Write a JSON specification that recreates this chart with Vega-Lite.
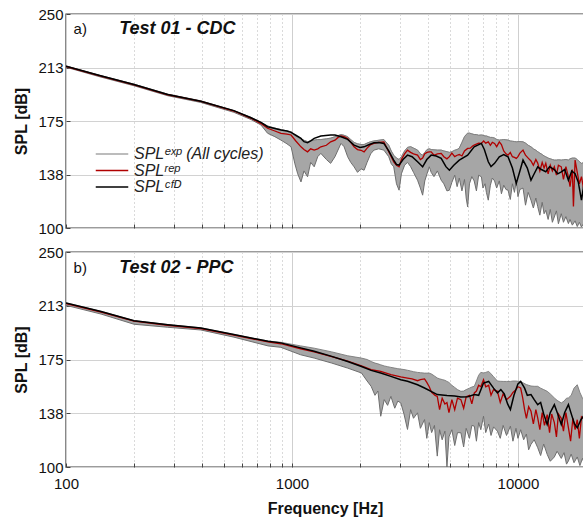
{
  "$schema": "https://vega.github.io/schema/vega-lite/v6.json",
  "background": "white",
  "padding": {"left": 13, "top": 6, "right": 0, "bottom": 1},
  "spacing": 24,
  "bounds": "flush",
  "config": {
    "view": {"stroke": "#3a3a3a", "strokeWidth": 1.4},
    "font": "Liberation Sans",
    "axis": {
      "labelFont": "Liberation Sans", "labelFontSize": 15, "labelColor": "#111",
      "titleFont": "Liberation Sans", "titleFontSize": 16, "titleFontWeight": "bold", "titleColor": "#111",
      "domain": false, "tickColor": "#444", "tickSize": -4, "labelPadding": 5,
      "labelOverlap": false, "labelFlush": false, "gridColor": "#d2d2d2", "gridWidth": 1
    },
    "axisY": {"labelPadding": 7}
  },
  "resolve": {"scale": {"color": "independent"}, "legend": {"color": "independent"}},
  "datasets": {
    "bandA": [
      {"f":100,"lo":212.7,"hi":213.6},{"f":141,"lo":206.0,"hi":207.0},{"f":200,"lo":199.7,"hi":200.8},{"f":282,"lo":192.7,"hi":193.8},
      {"f":395,"lo":188.0,"hi":189.1},{"f":553,"lo":181.1,"hi":182.3},{"f":659,"lo":176.0,"hi":177.5},{"f":729,"lo":172.2,"hi":174.0},
      {"f":780,"lo":166.4,"hi":171.5},{"f":840,"lo":164,"hi":170},{"f":894,"lo":161.6,"hi":169},{"f":950,"lo":159,"hi":168},
      {"f":991,"lo":156.9,"hi":167.5},{"f":1030,"lo":145,"hi":165},{"f":1060,"lo":138,"hi":163.5},{"f":1096,"lo":132.3,"hi":162.5},
      {"f":1130,"lo":140,"hi":161.5},{"f":1172,"lo":135.9,"hi":160.5},{"f":1210,"lo":146,"hi":161},{"f":1254,"lo":142.9,"hi":161.6},
      {"f":1300,"lo":150,"hi":162},{"f":1342,"lo":152.3,"hi":162},{"f":1420,"lo":148,"hi":162.5},{"f":1483,"lo":145.3,"hi":163},
      {"f":1550,"lo":150,"hi":164},{"f":1648,"lo":159.3,"hi":165.5},{"f":1700,"lo":157,"hi":165},{"f":1764,"lo":149.9,"hi":164},
      {"f":1820,"lo":146,"hi":162},{"f":1882,"lo":142.9,"hi":160},{"f":1950,"lo":139,"hi":159},{"f":2020,"lo":141.5,"hi":158.5},
      {"f":2085,"lo":140.5,"hi":158.5},{"f":2150,"lo":146,"hi":159.5},{"f":2230,"lo":152,"hi":160.5},{"f":2305,"lo":154.6,"hi":161},
      {"f":2420,"lo":155.5,"hi":161.5},{"f":2550,"lo":154.6,"hi":162},{"f":2680,"lo":150,"hi":158},{"f":2750,"lo":145,"hi":154},
      {"f":2820,"lo":142.9,"hi":151},{"f":2900,"lo":131,"hi":149},{"f":2978,"lo":126.5,"hi":148},{"f":3050,"lo":138,"hi":150},
      {"f":3150,"lo":144,"hi":154},{"f":3245,"lo":146,"hi":156.5},{"f":3350,"lo":143,"hi":157},{"f":3450,"lo":139,"hi":156},
      {"f":3595,"lo":133.5,"hi":154.6},{"f":3700,"lo":128,"hi":152},{"f":3786,"lo":123,"hi":151},{"f":3870,"lo":133,"hi":153},
      {"f":3960,"lo":138,"hi":155},{"f":4050,"lo":142.9,"hi":155.5},{"f":4131,"lo":139,"hi":155},{"f":4250,"lo":136,"hi":154.8},
      {"f":4400,"lo":140,"hi":154.6},{"f":4574,"lo":133.5,"hi":154.6},{"f":4700,"lo":131,"hi":154},{"f":4850,"lo":126,"hi":153.5},
      {"f":4972,"lo":126.5,"hi":153},{"f":5100,"lo":132,"hi":153.5},{"f":5250,"lo":137,"hi":154.5},{"f":5380,"lo":129,"hi":155},
      {"f":5500,"lo":135,"hi":156},{"f":5650,"lo":126,"hi":160},{"f":5800,"lo":134,"hi":164},{"f":5900,"lo":121,"hi":165.5},
      {"f":5989,"lo":114.8,"hi":166.4},{"f":6100,"lo":131,"hi":166.5},{"f":6250,"lo":136,"hi":166},{"f":6400,"lo":133,"hi":165.5},
      {"f":6550,"lo":126,"hi":165.5},{"f":6700,"lo":137,"hi":165},{"f":6890,"lo":135.9,"hi":165.2},{"f":7000,"lo":128,"hi":165},
      {"f":7150,"lo":131,"hi":164.5},{"f":7250,"lo":125,"hi":164.5},{"f":7390,"lo":119.5,"hi":164},{"f":7550,"lo":130,"hi":163.5},
      {"f":7700,"lo":135,"hi":163.5},{"f":7880,"lo":133,"hi":163},{"f":8050,"lo":128,"hi":162},{"f":8270,"lo":133,"hi":161.6},
      {"f":8450,"lo":124,"hi":161.8},{"f":8650,"lo":130,"hi":162},{"f":8850,"lo":127,"hi":161.8},{"f":9040,"lo":126.5,"hi":161.6},
      {"f":9250,"lo":120,"hi":161},{"f":9450,"lo":131,"hi":160.8},{"f":9650,"lo":125,"hi":160.6},{"f":9830,"lo":133,"hi":160.4},
      {"f":10000,"lo":122,"hi":160.5},{"f":10200,"lo":127,"hi":160.6},{"f":10530,"lo":128,"hi":160.4},{"f":10800,"lo":116,"hi":159.5},
      {"f":11100,"lo":125,"hi":158},{"f":11420,"lo":119.5,"hi":156.9},{"f":11700,"lo":114,"hi":155.5},{"f":12000,"lo":121,"hi":154.5},
      {"f":12230,"lo":115,"hi":153.5},{"f":12500,"lo":109,"hi":152.5},{"f":12800,"lo":118,"hi":151.5},{"f":13050,"lo":110,"hi":150.5},
      {"f":13280,"lo":112.4,"hi":149.9},{"f":13600,"lo":106,"hi":149},{"f":13900,"lo":113,"hi":148.5},{"f":14200,"lo":104,"hi":148},
      {"f":14480,"lo":107.7,"hi":147.6},{"f":14800,"lo":112,"hi":147.6},{"f":15100,"lo":103,"hi":147.8},{"f":15550,"lo":110,"hi":147.6},
      {"f":15900,"lo":104,"hi":147.8},{"f":16300,"lo":108,"hi":148},{"f":16720,"lo":103.1,"hi":147.6},{"f":17000,"lo":106,"hi":148.5},
      {"f":17400,"lo":102,"hi":149},{"f":17900,"lo":105,"hi":149},{"f":18300,"lo":101,"hi":148},{"f":18700,"lo":104,"hi":146.5},
      {"f":19100,"lo":100.7,"hi":145.3},{"f":19500,"lo":103,"hi":145.8},{"f":20000,"lo":102,"hi":146}
    ],
    "repA": [
      {"f":100,"v":213.2},{"f":141,"v":206.6},{"f":200,"v":200.3},{"f":282,"v":193.4},{"f":395,"v":188.7},{"f":553,"v":182.0},
      {"f":659,"v":176.9},{"f":729,"v":173.2},{"f":780,"v":169.9},{"f":840,"v":168},{"f":894,"v":166.4},{"f":950,"v":165.8},
      {"f":991,"v":165.2},{"f":1040,"v":161},{"f":1096,"v":156.9},{"f":1130,"v":155},{"f":1172,"v":153.4},{"f":1210,"v":155.5},
      {"f":1254,"v":154.6},{"f":1300,"v":155.5},{"f":1342,"v":156.9},{"f":1420,"v":158},{"f":1483,"v":160.4},{"f":1550,"v":161.6},
      {"f":1600,"v":163.5},{"f":1648,"v":164.5},{"f":1700,"v":164},{"f":1764,"v":162.8},{"f":1820,"v":160},{"f":1882,"v":156.9},
      {"f":1950,"v":155},{"f":2020,"v":154.5},{"f":2085,"v":153.4},{"f":2150,"v":156},{"f":2230,"v":158.5},{"f":2305,"v":159.3},
      {"f":2420,"v":160},{"f":2550,"v":160.4},{"f":2650,"v":155},{"f":2750,"v":150},{"f":2820,"v":146.4},{"f":2900,"v":144},
      {"f":2978,"v":142.9},{"f":3050,"v":148},{"f":3150,"v":152},{"f":3245,"v":154.6},{"f":3350,"v":153},{"f":3450,"v":152},
      {"f":3595,"v":151.1},{"f":3700,"v":148},{"f":3786,"v":149},{"f":3870,"v":152},{"f":3960,"v":153},{"f":4050,"v":153.4},
      {"f":4131,"v":153.4},{"f":4250,"v":151},{"f":4400,"v":152},{"f":4574,"v":152.3},{"f":4700,"v":150},{"f":4850,"v":148.5},
      {"f":4972,"v":150},{"f":5100,"v":152.5},{"f":5250,"v":150},{"f":5380,"v":151},{"f":5500,"v":151.5},{"f":5650,"v":150.5},
      {"f":5800,"v":154},{"f":5989,"v":155.8},{"f":6150,"v":156},{"f":6300,"v":157.5},{"f":6400,"v":158.1},{"f":6550,"v":158.8},
      {"f":6700,"v":159.5},{"f":6890,"v":159.3},{"f":7050,"v":161},{"f":7200,"v":159.5},{"f":7390,"v":160.4},{"f":7550,"v":158},
      {"f":7700,"v":160},{"f":7880,"v":159.3},{"f":8050,"v":157},{"f":8270,"v":160.4},{"f":8450,"v":158.5},{"f":8650,"v":154},
      {"f":8850,"v":152},{"f":9040,"v":151.1},{"f":9250,"v":153},{"f":9450,"v":150},{"f":9650,"v":149.5},{"f":9830,"v":148.8},
      {"f":10000,"v":150},{"f":10200,"v":152.5},{"f":10530,"v":154.6},{"f":10800,"v":151},{"f":11100,"v":149},{"f":11420,"v":147},
      {"f":11700,"v":144},{"f":12000,"v":148},{"f":12230,"v":145.5},{"f":12500,"v":140},{"f":12800,"v":146},{"f":13050,"v":142},
      {"f":13280,"v":145.3},{"f":13600,"v":138},{"f":13900,"v":144},{"f":14200,"v":140},{"f":14480,"v":142.9},{"f":14800,"v":137},
      {"f":15100,"v":144},{"f":15550,"v":142.9},{"f":15900,"v":134},{"f":16300,"v":143},{"f":16720,"v":135.9},{"f":17000,"v":129},
      {"f":17400,"v":141},{"f":17600,"v":115},{"f":17900,"v":147.6},{"f":18300,"v":139},{"f":18700,"v":131},{"f":19100,"v":136},
      {"f":19500,"v":128},{"f":20000,"v":138}
    ],
    "cfdA": [
      {"f":100,"v":213.4},{"f":141,"v":206.9},{"f":200,"v":200.6},{"f":282,"v":193.6},{"f":395,"v":188.9},{"f":553,"v":182.3},
      {"f":659,"v":177.3},{"f":729,"v":174.0},{"f":780,"v":171.0},{"f":840,"v":169.8},{"f":894,"v":168.7},{"f":950,"v":168},
      {"f":991,"v":167},{"f":1040,"v":165},{"f":1096,"v":162.8},{"f":1130,"v":160.5},{"f":1172,"v":159.8},{"f":1210,"v":161},
      {"f":1254,"v":162.8},{"f":1342,"v":164.5},{"f":1483,"v":165.2},{"f":1550,"v":165.2},{"f":1648,"v":164},{"f":1764,"v":162.1},
      {"f":1882,"v":158.1},{"f":2000,"v":156.5},{"f":2085,"v":156.9},{"f":2200,"v":158.5},{"f":2305,"v":159.8},{"f":2420,"v":160},
      {"f":2550,"v":159.3},{"f":2680,"v":154},{"f":2820,"v":147.6},{"f":2900,"v":144.5},{"f":2978,"v":144.1},{"f":3100,"v":148},
      {"f":3245,"v":151.1},{"f":3400,"v":150},{"f":3595,"v":146.4},{"f":3786,"v":142.9},{"f":3950,"v":148},{"f":4131,"v":151.1},
      {"f":4350,"v":150.5},{"f":4574,"v":148.8},{"f":4800,"v":143},{"f":4972,"v":140.5},{"f":5200,"v":144},{"f":5500,"v":147.6},
      {"f":5989,"v":151.1},{"f":6400,"v":156.9},{"f":6890,"v":159.3},{"f":7100,"v":155},{"f":7390,"v":146.4},{"f":7600,"v":143},
      {"f":7880,"v":145.3},{"f":8270,"v":149.9},{"f":8650,"v":151.5},{"f":9040,"v":149.9},{"f":9450,"v":142},{"f":9830,"v":131.2},
      {"f":10200,"v":140},{"f":10530,"v":147.6},{"f":11000,"v":142},{"f":11420,"v":133.5},{"f":11800,"v":138},{"f":12230,"v":142.9},
      {"f":12700,"v":141},{"f":13280,"v":139.4},{"f":13800,"v":143},{"f":14480,"v":141},{"f":15000,"v":138},{"f":15550,"v":139.4},
      {"f":16100,"v":141},{"f":16720,"v":133.5},{"f":17300,"v":140},{"f":17900,"v":138},{"f":18500,"v":132},{"f":19100,"v":119.5},
      {"f":19600,"v":131},{"f":20000,"v":136}
    ],
    "bandB": [
      {"f":100,"lo":212.8,"hi":214.5},{"f":143,"lo":206.7,"hi":208.6},{"f":200,"lo":199.6,"hi":202.2},{"f":282,"lo":197.5,"hi":199.4},
      {"f":395,"lo":195.6,"hi":197.1},{"f":553,"lo":190.6,"hi":192.5},{"f":783,"lo":184.5,"hi":187.9},{"f":893,"lo":183.5,"hi":187},
      {"f":1092,"lo":178.3,"hi":184.5},{"f":1254,"lo":176,"hi":182.9},{"f":1500,"lo":172.5,"hi":180.3},{"f":1764,"lo":169,"hi":177.6},
      {"f":2030,"lo":165.6,"hi":176},{"f":2150,"lo":160,"hi":175},{"f":2240,"lo":156.3,"hi":173.6},{"f":2330,"lo":150,"hi":172.5},
      {"f":2400,"lo":153,"hi":172},{"f":2470,"lo":135.4,"hi":171.3},{"f":2560,"lo":147,"hi":170.5},{"f":2650,"lo":143,"hi":170},
      {"f":2740,"lo":149.3,"hi":169.5},{"f":2850,"lo":141,"hi":169},{"f":2940,"lo":146,"hi":168.6},{"f":3030,"lo":144.7,"hi":168.3},
      {"f":3130,"lo":137,"hi":168},{"f":3245,"lo":126.2,"hi":167.5},{"f":3350,"lo":140,"hi":167},{"f":3450,"lo":134,"hi":166.5},
      {"f":3595,"lo":137.8,"hi":166},{"f":3700,"lo":127,"hi":165.8},{"f":3860,"lo":133.1,"hi":165.5},{"f":3950,"lo":120,"hi":165.5},
      {"f":4050,"lo":131,"hi":165.5},{"f":4150,"lo":124,"hi":164.8},{"f":4270,"lo":129,"hi":163.5},{"f":4395,"lo":107.6,"hi":162.1},
      {"f":4500,"lo":126,"hi":161.5},{"f":4620,"lo":119,"hi":161},{"f":4750,"lo":125,"hi":160.5},{"f":4850,"lo":100,"hi":159.7},
      {"f":4950,"lo":121,"hi":159},{"f":5100,"lo":126,"hi":157},{"f":5250,"lo":115,"hi":155.5},{"f":5400,"lo":124,"hi":154},
      {"f":5590,"lo":123.9,"hi":152.8},{"f":5750,"lo":114,"hi":153},{"f":5900,"lo":127,"hi":154},{"f":6100,"lo":120,"hi":155},
      {"f":6250,"lo":129,"hi":155.8},{"f":6410,"lo":128.5,"hi":156.3},{"f":6550,"lo":118,"hi":160},{"f":6700,"lo":131,"hi":164},
      {"f":6850,"lo":126,"hi":166},{"f":7040,"lo":135.4,"hi":165.6},{"f":7200,"lo":124,"hi":166},{"f":7420,"lo":130,"hi":166.7},
      {"f":7600,"lo":122,"hi":165},{"f":7800,"lo":128,"hi":163},{"f":8110,"lo":125,"hi":160},{"f":8350,"lo":120,"hi":159.8},
      {"f":8600,"lo":129,"hi":159.7},{"f":8900,"lo":122,"hi":159.7},{"f":9260,"lo":128.5,"hi":159.7},{"f":9500,"lo":118,"hi":160},
      {"f":9800,"lo":127,"hi":160},{"f":10000,"lo":120,"hi":159.8},{"f":10280,"lo":126,"hi":159.7},{"f":10600,"lo":119,"hi":158.5},
      {"f":10900,"lo":123,"hi":157.5},{"f":11150,"lo":112,"hi":157},{"f":11420,"lo":115.8,"hi":156.5},{"f":11800,"lo":119,"hi":156.3},
      {"f":12230,"lo":113.5,"hi":156.3},{"f":12600,"lo":108,"hi":155},{"f":13000,"lo":116,"hi":154},{"f":13470,"lo":108.8,"hi":152.8},
      {"f":13900,"lo":104,"hi":151},{"f":14490,"lo":107,"hi":148.2},{"f":14900,"lo":111,"hi":146.5},{"f":15550,"lo":106,"hi":144.7},
      {"f":16000,"lo":110,"hi":146},{"f":16400,"lo":102,"hi":148},{"f":16720,"lo":104.2,"hi":148.2},{"f":17200,"lo":109,"hi":150},
      {"f":17700,"lo":103,"hi":155},{"f":18300,"lo":107,"hi":157.4},{"f":18800,"lo":101,"hi":152},{"f":19300,"lo":106,"hi":148},
      {"f":19700,"lo":102,"hi":146},{"f":20000,"lo":104,"hi":146}
    ],
    "repB": [
      {"f":100,"v":214.0},{"f":143,"v":208.0},{"f":200,"v":201.7},{"f":282,"v":198.9},{"f":395,"v":196.6},{"f":553,"v":192.0},
      {"f":783,"v":187.3},{"f":893,"v":186.0},{"f":1092,"v":182.5},{"f":1254,"v":180.3},{"f":1500,"v":177},{"f":1764,"v":173.8},
      {"f":2030,"v":170.6},{"f":2240,"v":168},{"f":2470,"v":166.7},{"f":2740,"v":164.4},{"f":3030,"v":162.8},{"f":3245,"v":162},
      {"f":3400,"v":161.5},{"f":3595,"v":160.2},{"f":3700,"v":161},{"f":3860,"v":161.5},{"f":3950,"v":159},{"f":4050,"v":156},
      {"f":4150,"v":152},{"f":4300,"v":150},{"f":4395,"v":149.3},{"f":4500,"v":140},{"f":4620,"v":148},{"f":4750,"v":144},
      {"f":4850,"v":145},{"f":4950,"v":138},{"f":5100,"v":147},{"f":5250,"v":140},{"f":5400,"v":148},{"f":5590,"v":147},
      {"f":5750,"v":141},{"f":5900,"v":149},{"f":6100,"v":150},{"f":6250,"v":144},{"f":6410,"v":151.7},{"f":6550,"v":153},
      {"f":6700,"v":157},{"f":6850,"v":156},{"f":7040,"v":160.9},{"f":7200,"v":156},{"f":7420,"v":157},{"f":7600,"v":150},
      {"f":7800,"v":154},{"f":8110,"v":152.8},{"f":8350,"v":145},{"f":8600,"v":151},{"f":8900,"v":147},{"f":9260,"v":149.3},
      {"f":9500,"v":152},{"f":9800,"v":154},{"f":10000,"v":156},{"f":10280,"v":155.1},{"f":10500,"v":148},{"f":10700,"v":140},
      {"f":10900,"v":134},{"f":11150,"v":142},{"f":11420,"v":138.9},{"f":11700,"v":130},{"f":12000,"v":140},{"f":12230,"v":134.3},
      {"f":12500,"v":126},{"f":12800,"v":138},{"f":13100,"v":129},{"f":13470,"v":136.6},{"f":13800,"v":124},{"f":14100,"v":137},
      {"f":14490,"v":131},{"f":14800,"v":121},{"f":15100,"v":137},{"f":15550,"v":134},{"f":15900,"v":125},{"f":16300,"v":138},
      {"f":16720,"v":127.4},{"f":17100,"v":118},{"f":17500,"v":134},{"f":17900,"v":126},{"f":18300,"v":133},{"f":18700,"v":120},
      {"f":19100,"v":135},{"f":19700,"v":133},{"f":20000,"v":128}
    ],
    "cfdB": [
      {"f":100,"v":214.4},{"f":143,"v":208.5},{"f":200,"v":202.1},{"f":282,"v":199.3},{"f":395,"v":197.0},{"f":553,"v":192.4},
      {"f":783,"v":187.7},{"f":893,"v":186.6},{"f":1092,"v":183.1},{"f":1254,"v":180.8},{"f":1500,"v":177.2},{"f":1764,"v":173.6},
      {"f":2030,"v":170.1},{"f":2240,"v":167.4},{"f":2470,"v":165.6},{"f":2740,"v":163.2},{"f":3030,"v":160.9},{"f":3245,"v":159.8},
      {"f":3595,"v":157.4},{"f":3860,"v":155.1},{"f":4395,"v":150.5},{"f":4850,"v":149.8},{"f":5250,"v":149.5},{"f":5590,"v":148.9},
      {"f":6000,"v":149},{"f":6410,"v":150.5},{"f":6700,"v":150},{"f":7040,"v":158.6},{"f":7420,"v":159.7},{"f":7800,"v":155},
      {"f":8110,"v":151.7},{"f":8400,"v":154},{"f":8700,"v":151},{"f":9000,"v":144},{"f":9260,"v":140.1},{"f":9600,"v":150},
      {"f":10000,"v":158},{"f":10280,"v":159.7},{"f":10700,"v":155},{"f":11000,"v":150},{"f":11420,"v":150.5},{"f":11800,"v":147},
      {"f":12230,"v":143.5},{"f":12600,"v":145},{"f":13000,"v":137},{"f":13470,"v":129.7},{"f":13900,"v":138},{"f":14490,"v":143.5},
      {"f":15000,"v":137},{"f":15550,"v":129.7},{"f":16100,"v":138},{"f":16720,"v":143.5},{"f":17300,"v":136},{"f":17800,"v":130},
      {"f":18300,"v":127.4},{"f":19000,"v":133},{"f":19700,"v":136.6},{"f":20000,"v":135}
    ],
    "lblA": [{"tag": "a)", "name": "Test 01 - CDC"}],
    "lblB": [{"tag": "b)", "name": "Test 02 - PPC"}]
  },
  "vconcat": [
    {
      "width": 518, "height": 214,
      "layer": [
        {"data": {"name": "bandA"}, "mark": {"type": "area", "color": "#a6a6a6", "clip": true},
          "encoding": {
            "x": {"field": "f", "type": "quantitative", "title": null, "scale": {"type": "log", "domain": [100, 19600], "nice": false},
              "axis": {"values": [100,200,300,400,500,600,700,800,900,1000,2000,3000,4000,5000,6000,7000,8000,9000,10000,20000], "labels": false, "grid": true,
                "gridDash": {"condition": {"test": "datum.value==100||datum.value==1000||datum.value==10000", "value": []}, "value": [1, 3]},
                "gridColor": {"condition": {"test": "datum.value==100||datum.value==1000||datum.value==10000", "value": "#cfcfcf"}, "value": "#b5b5b5"}}},
            "y": {"field": "lo", "type": "quantitative", "title": "SPL [dB]", "scale": {"domain": [100, 250], "nice": false, "zero": false},
              "axis": {"values": [100,118.75,137.5,156.25,175,193.75,212.5,231.25,250], "labelExpr": "(datum.value-100)%37.5==0 ? format(datum.value,'.0f') : ''",
                "grid": true, "gridOpacity": {"condition": {"test": "(datum.value-100)%37.5==0", "value": 1}, "value": 0}, "titlePadding": 8}},
            "y2": {"field": "hi"}}},
        {"data": {"name": "bandA"}, "mark": {"type": "line", "strokeWidth": 1, "clip": true},
          "encoding": {
            "x": {"field": "f", "type": "quantitative", "title": null, "scale": {"type": "log", "domain": [100, 19600], "nice": false},
              "axis": {"values": [100,200,300,400,500,600,700,800,900,1000,2000,3000,4000,5000,6000,7000,8000,9000,10000,20000], "labels": false, "grid": true,
                "gridDash": {"condition": {"test": "datum.value==100||datum.value==1000||datum.value==10000", "value": []}, "value": [1, 3]},
                "gridColor": {"condition": {"test": "datum.value==100||datum.value==1000||datum.value==10000", "value": "#cfcfcf"}, "value": "#b5b5b5"}}},
            "y": {"field": "hi", "type": "quantitative", "title": "SPL [dB]", "scale": {"domain": [100, 250], "nice": false, "zero": false},
              "axis": {"values": [100,118.75,137.5,156.25,175,193.75,212.5,231.25,250], "labelExpr": "(datum.value-100)%37.5==0 ? format(datum.value,'.0f') : ''",
                "grid": true, "gridOpacity": {"condition": {"test": "(datum.value-100)%37.5==0", "value": 1}, "value": 0}, "titlePadding": 8}},
            "color": {"datum": "SPLᵉˣᵖ (All cycles)",
              "scale": {"domain": ["SPLᵉˣᵖ (All cycles)", "SPLʳᵉᵖ", "SPLᶜᶠᴰ"], "range": ["#a6a6a6", "#b00000", "#000000"]},
              "legend": {"orient": "none", "legendX": 38, "legendY": 132, "title": null, "padding": 0,
                "symbolType": "M-2.5,0H2.5", "symbolSize": 169, "symbolStrokeWidth": 1.6, "labelOffset": 14,
                "labelFont": "Liberation Sans", "labelFontSize": 16, "labelFontStyle": "italic", "labelColor": "#222", "rowPadding": 0.5}}}},
        {"data": {"name": "bandA"}, "mark": {"type": "line", "color": "#6e6e6e", "strokeWidth": 1, "clip": true},
          "encoding": {
            "x": {"field": "f", "type": "quantitative", "title": null, "scale": {"type": "log", "domain": [100, 19600], "nice": false},
              "axis": {"values": [100,200,300,400,500,600,700,800,900,1000,2000,3000,4000,5000,6000,7000,8000,9000,10000,20000], "labels": false, "grid": true,
                "gridDash": {"condition": {"test": "datum.value==100||datum.value==1000||datum.value==10000", "value": []}, "value": [1, 3]},
                "gridColor": {"condition": {"test": "datum.value==100||datum.value==1000||datum.value==10000", "value": "#cfcfcf"}, "value": "#b5b5b5"}}},
            "y": {"field": "lo", "type": "quantitative", "title": "SPL [dB]", "scale": {"domain": [100, 250], "nice": false, "zero": false},
              "axis": {"values": [100,118.75,137.5,156.25,175,193.75,212.5,231.25,250], "labelExpr": "(datum.value-100)%37.5==0 ? format(datum.value,'.0f') : ''",
                "grid": true, "gridOpacity": {"condition": {"test": "(datum.value-100)%37.5==0", "value": 1}, "value": 0}, "titlePadding": 8}}}},
        {"data": {"name": "bandA"}, "mark": {"type": "line", "color": "#7a7a7a", "strokeWidth": 0.9, "clip": true},
          "encoding": {
            "x": {"field": "f", "type": "quantitative", "title": null, "scale": {"type": "log", "domain": [100, 19600], "nice": false},
              "axis": {"values": [100,200,300,400,500,600,700,800,900,1000,2000,3000,4000,5000,6000,7000,8000,9000,10000,20000], "labels": false, "grid": true,
                "gridDash": {"condition": {"test": "datum.value==100||datum.value==1000||datum.value==10000", "value": []}, "value": [1, 3]},
                "gridColor": {"condition": {"test": "datum.value==100||datum.value==1000||datum.value==10000", "value": "#cfcfcf"}, "value": "#b5b5b5"}}},
            "y": {"field": "hi", "type": "quantitative", "title": "SPL [dB]", "scale": {"domain": [100, 250], "nice": false, "zero": false},
              "axis": {"values": [100,118.75,137.5,156.25,175,193.75,212.5,231.25,250], "labelExpr": "(datum.value-100)%37.5==0 ? format(datum.value,'.0f') : ''",
                "grid": true, "gridOpacity": {"condition": {"test": "(datum.value-100)%37.5==0", "value": 1}, "value": 0}, "titlePadding": 8}}}},
        {"data": {"name": "repA"}, "mark": {"type": "line", "strokeWidth": 1.3, "clip": true},
          "encoding": {
            "x": {"field": "f", "type": "quantitative", "title": null, "scale": {"type": "log", "domain": [100, 19600], "nice": false},
              "axis": {"values": [100,200,300,400,500,600,700,800,900,1000,2000,3000,4000,5000,6000,7000,8000,9000,10000,20000], "labels": false, "grid": true,
                "gridDash": {"condition": {"test": "datum.value==100||datum.value==1000||datum.value==10000", "value": []}, "value": [1, 3]},
                "gridColor": {"condition": {"test": "datum.value==100||datum.value==1000||datum.value==10000", "value": "#cfcfcf"}, "value": "#b5b5b5"}}},
            "y": {"field": "v", "type": "quantitative", "title": "SPL [dB]", "scale": {"domain": [100, 250], "nice": false, "zero": false},
              "axis": {"values": [100,118.75,137.5,156.25,175,193.75,212.5,231.25,250], "labelExpr": "(datum.value-100)%37.5==0 ? format(datum.value,'.0f') : ''",
                "grid": true, "gridOpacity": {"condition": {"test": "(datum.value-100)%37.5==0", "value": 1}, "value": 0}, "titlePadding": 8}},
            "color": {"datum": "SPLʳᵉᵖ"}}},
        {"data": {"name": "cfdA"}, "mark": {"type": "line", "strokeWidth": 1.5, "clip": true},
          "encoding": {
            "x": {"field": "f", "type": "quantitative", "title": null, "scale": {"type": "log", "domain": [100, 19600], "nice": false},
              "axis": {"values": [100,200,300,400,500,600,700,800,900,1000,2000,3000,4000,5000,6000,7000,8000,9000,10000,20000], "labels": false, "grid": true,
                "gridDash": {"condition": {"test": "datum.value==100||datum.value==1000||datum.value==10000", "value": []}, "value": [1, 3]},
                "gridColor": {"condition": {"test": "datum.value==100||datum.value==1000||datum.value==10000", "value": "#cfcfcf"}, "value": "#b5b5b5"}}},
            "y": {"field": "v", "type": "quantitative", "title": "SPL [dB]", "scale": {"domain": [100, 250], "nice": false, "zero": false},
              "axis": {"values": [100,118.75,137.5,156.25,175,193.75,212.5,231.25,250], "labelExpr": "(datum.value-100)%37.5==0 ? format(datum.value,'.0f') : ''",
                "grid": true, "gridOpacity": {"condition": {"test": "(datum.value-100)%37.5==0", "value": 1}, "value": 0}, "titlePadding": 8}},
            "color": {"datum": "SPLᶜᶠᴰ"}}},
        {"data": {"name": "lblA"}, "mark": {"type": "text", "align": "left", "baseline": "middle", "fontSize": 15, "color": "#111"},
          "encoding": {"x": {"datum": 108, "type": "quantitative"}, "y": {"datum": 239.5, "type": "quantitative"}, "text": {"field": "tag"}}},
        {"data": {"name": "lblA"}, "mark": {"type": "text", "align": "left", "baseline": "middle", "fontSize": 18, "fontWeight": "bold", "fontStyle": "italic", "color": "#111"},
          "encoding": {"x": {"datum": 172, "type": "quantitative"}, "y": {"datum": 239.5, "type": "quantitative"}, "text": {"field": "name"}}}
      ]
    },
    {
      "width": 518, "height": 215,
      "layer": [
        {"data": {"name": "bandB"}, "mark": {"type": "area", "color": "#a6a6a6", "clip": true},
          "encoding": {
            "x": {"field": "f", "type": "quantitative", "title": "Frequency [Hz]", "scale": {"type": "log", "domain": [100, 19600], "nice": false},
              "axis": {"values": [100,200,300,400,500,600,700,800,900,1000,2000,3000,4000,5000,6000,7000,8000,9000,10000,20000],
                "labelExpr": "datum.value==100||datum.value==1000||datum.value==10000 ? format(datum.value,'d') : ''", "grid": true, "labelPadding": 13, "titlePadding": 9,
                "gridDash": {"condition": {"test": "datum.value==100||datum.value==1000||datum.value==10000", "value": []}, "value": [1, 3]},
                "gridColor": {"condition": {"test": "datum.value==100||datum.value==1000||datum.value==10000", "value": "#cfcfcf"}, "value": "#b5b5b5"}}},
            "y": {"field": "lo", "type": "quantitative", "title": "SPL [dB]", "scale": {"domain": [100, 250], "nice": false, "zero": false},
              "axis": {"values": [100,118.75,137.5,156.25,175,193.75,212.5,231.25,250], "labelExpr": "(datum.value-100)%37.5==0 ? format(datum.value,'.0f') : ''",
                "grid": true, "gridOpacity": {"condition": {"test": "(datum.value-100)%37.5==0", "value": 1}, "value": 0}, "titlePadding": 8}},
            "y2": {"field": "hi"}}},
        {"data": {"name": "bandB"}, "mark": {"type": "line", "color": "#6e6e6e", "strokeWidth": 1, "clip": true},
          "encoding": {
            "x": {"field": "f", "type": "quantitative", "title": "Frequency [Hz]", "scale": {"type": "log", "domain": [100, 19600], "nice": false},
              "axis": {"values": [100,200,300,400,500,600,700,800,900,1000,2000,3000,4000,5000,6000,7000,8000,9000,10000,20000],
                "labelExpr": "datum.value==100||datum.value==1000||datum.value==10000 ? format(datum.value,'d') : ''", "grid": true, "labelPadding": 13, "titlePadding": 9,
                "gridDash": {"condition": {"test": "datum.value==100||datum.value==1000||datum.value==10000", "value": []}, "value": [1, 3]},
                "gridColor": {"condition": {"test": "datum.value==100||datum.value==1000||datum.value==10000", "value": "#cfcfcf"}, "value": "#b5b5b5"}}},
            "y": {"field": "lo", "type": "quantitative", "title": "SPL [dB]", "scale": {"domain": [100, 250], "nice": false, "zero": false},
              "axis": {"values": [100,118.75,137.5,156.25,175,193.75,212.5,231.25,250], "labelExpr": "(datum.value-100)%37.5==0 ? format(datum.value,'.0f') : ''",
                "grid": true, "gridOpacity": {"condition": {"test": "(datum.value-100)%37.5==0", "value": 1}, "value": 0}, "titlePadding": 8}}}},
        {"data": {"name": "bandB"}, "mark": {"type": "line", "color": "#7a7a7a", "strokeWidth": 0.9, "clip": true},
          "encoding": {
            "x": {"field": "f", "type": "quantitative", "title": "Frequency [Hz]", "scale": {"type": "log", "domain": [100, 19600], "nice": false},
              "axis": {"values": [100,200,300,400,500,600,700,800,900,1000,2000,3000,4000,5000,6000,7000,8000,9000,10000,20000],
                "labelExpr": "datum.value==100||datum.value==1000||datum.value==10000 ? format(datum.value,'d') : ''", "grid": true, "labelPadding": 13, "titlePadding": 9,
                "gridDash": {"condition": {"test": "datum.value==100||datum.value==1000||datum.value==10000", "value": []}, "value": [1, 3]},
                "gridColor": {"condition": {"test": "datum.value==100||datum.value==1000||datum.value==10000", "value": "#cfcfcf"}, "value": "#b5b5b5"}}},
            "y": {"field": "hi", "type": "quantitative", "title": "SPL [dB]", "scale": {"domain": [100, 250], "nice": false, "zero": false},
              "axis": {"values": [100,118.75,137.5,156.25,175,193.75,212.5,231.25,250], "labelExpr": "(datum.value-100)%37.5==0 ? format(datum.value,'.0f') : ''",
                "grid": true, "gridOpacity": {"condition": {"test": "(datum.value-100)%37.5==0", "value": 1}, "value": 0}, "titlePadding": 8}}}},
        {"data": {"name": "repB"}, "mark": {"type": "line", "color": "#b00000", "strokeWidth": 1.3, "clip": true},
          "encoding": {
            "x": {"field": "f", "type": "quantitative", "title": "Frequency [Hz]", "scale": {"type": "log", "domain": [100, 19600], "nice": false},
              "axis": {"values": [100,200,300,400,500,600,700,800,900,1000,2000,3000,4000,5000,6000,7000,8000,9000,10000,20000],
                "labelExpr": "datum.value==100||datum.value==1000||datum.value==10000 ? format(datum.value,'d') : ''", "grid": true, "labelPadding": 13, "titlePadding": 9,
                "gridDash": {"condition": {"test": "datum.value==100||datum.value==1000||datum.value==10000", "value": []}, "value": [1, 3]},
                "gridColor": {"condition": {"test": "datum.value==100||datum.value==1000||datum.value==10000", "value": "#cfcfcf"}, "value": "#b5b5b5"}}},
            "y": {"field": "v", "type": "quantitative", "title": "SPL [dB]", "scale": {"domain": [100, 250], "nice": false, "zero": false},
              "axis": {"values": [100,118.75,137.5,156.25,175,193.75,212.5,231.25,250], "labelExpr": "(datum.value-100)%37.5==0 ? format(datum.value,'.0f') : ''",
                "grid": true, "gridOpacity": {"condition": {"test": "(datum.value-100)%37.5==0", "value": 1}, "value": 0}, "titlePadding": 8}}}},
        {"data": {"name": "cfdB"}, "mark": {"type": "line", "color": "#000000", "strokeWidth": 1.5, "clip": true},
          "encoding": {
            "x": {"field": "f", "type": "quantitative", "title": "Frequency [Hz]", "scale": {"type": "log", "domain": [100, 19600], "nice": false},
              "axis": {"values": [100,200,300,400,500,600,700,800,900,1000,2000,3000,4000,5000,6000,7000,8000,9000,10000,20000],
                "labelExpr": "datum.value==100||datum.value==1000||datum.value==10000 ? format(datum.value,'d') : ''", "grid": true, "labelPadding": 13, "titlePadding": 9,
                "gridDash": {"condition": {"test": "datum.value==100||datum.value==1000||datum.value==10000", "value": []}, "value": [1, 3]},
                "gridColor": {"condition": {"test": "datum.value==100||datum.value==1000||datum.value==10000", "value": "#cfcfcf"}, "value": "#b5b5b5"}}},
            "y": {"field": "v", "type": "quantitative", "title": "SPL [dB]", "scale": {"domain": [100, 250], "nice": false, "zero": false},
              "axis": {"values": [100,118.75,137.5,156.25,175,193.75,212.5,231.25,250], "labelExpr": "(datum.value-100)%37.5==0 ? format(datum.value,'.0f') : ''",
                "grid": true, "gridOpacity": {"condition": {"test": "(datum.value-100)%37.5==0", "value": 1}, "value": 0}, "titlePadding": 8}}}},
        {"data": {"name": "lblB"}, "mark": {"type": "text", "align": "left", "baseline": "middle", "fontSize": 15, "color": "#111"},
          "encoding": {"x": {"datum": 108, "type": "quantitative"}, "y": {"datum": 239, "type": "quantitative"}, "text": {"field": "tag"}}},
        {"data": {"name": "lblB"}, "mark": {"type": "text", "align": "left", "baseline": "middle", "fontSize": 18, "fontWeight": "bold", "fontStyle": "italic", "color": "#111"},
          "encoding": {"x": {"datum": 172, "type": "quantitative"}, "y": {"datum": 239, "type": "quantitative"}, "text": {"field": "name"}}}
      ]
    }
  ]
}
